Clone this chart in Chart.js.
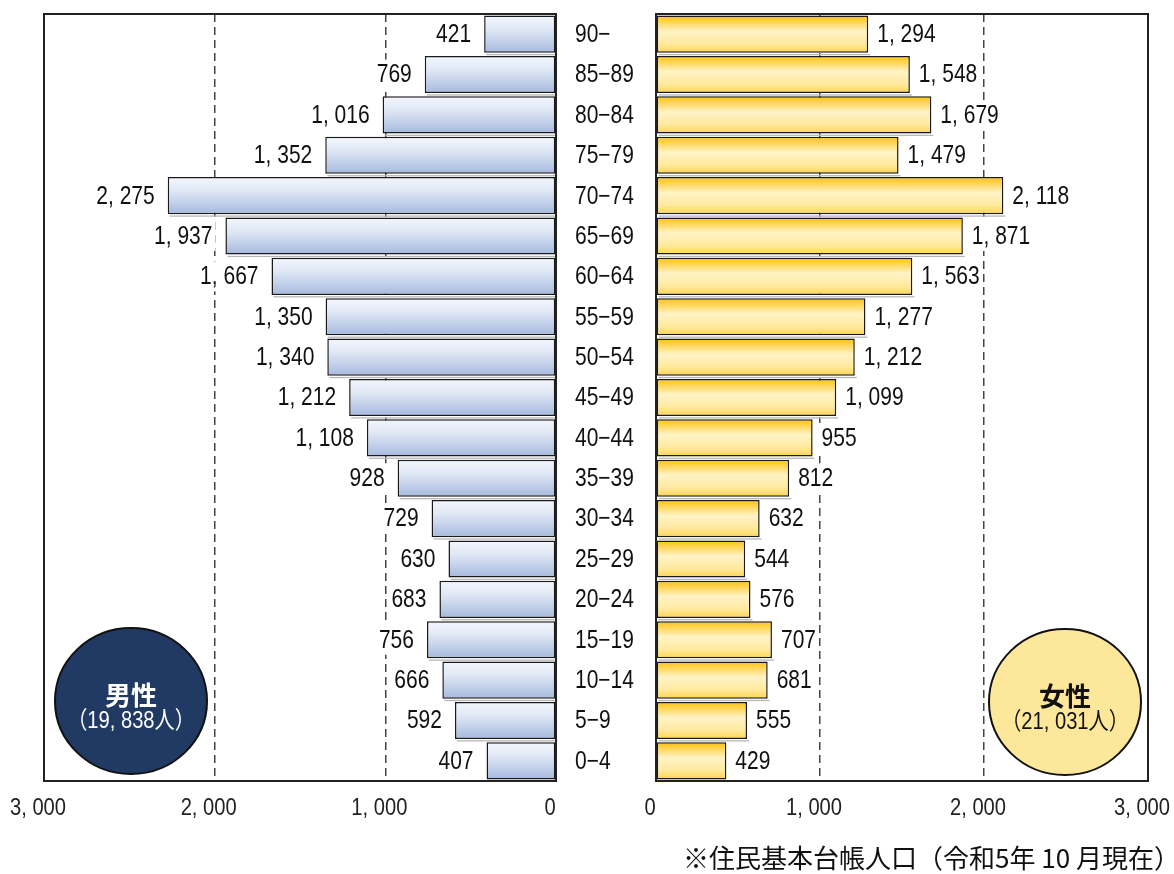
<!DOCTYPE html>
<html>
<head>
<meta charset="utf-8">
<script src="https://cdn.jsdelivr.net/npm/chart.js"></script>
<style>
  html, body { margin: 0; padding: 0; background: #fff; }
  #wrap { position: relative; width: 1174px; height: 874px; overflow: hidden; }
  canvas { position: absolute; top: 0; }
  #male { left: 0; }
  #female { left: 640px; }
</style>
</head>
<body>
<div id="wrap">
  <canvas id="male" width="640" height="874"></canvas>
  <canvas id="female" width="534" height="874"></canvas>
</div>
<script>
// 年齢階級（上から）
const ageGroups = ['90−', '85−89', '80−84', '75−79', '70−74', '65−69', '60−64', '55−59', '50−54',
  '45−49', '40−44', '35−39', '30−34', '25−29', '20−24', '15−19', '10−14', '5−9', '0−4'];
const maleCounts = [421, 769, 1016, 1352, 2275, 1937, 1667, 1350, 1340,
  1212, 1108, 928, 729, 630, 683, 756, 666, 592, 407];
const femaleCounts = [1294, 1548, 1679, 1479, 2118, 1871, 1563, 1277, 1212,
  1099, 955, 812, 632, 544, 576, 707, 681, 555, 429];
const axisTicks = [0, 1000, 2000, 3000];
const note = '※住民基本台帳人口（令和5年 10 月現在）';

const SQUEEZE = 0.84;
const NARROW = '"Liberation Sans", "Noto Sans CJK JP", sans-serif';
const CJK = '"Noto Sans CJK JP", sans-serif';

const fmt = n => n.toLocaleString('en-US').replace(/,/g, ', ');
const sum = a => a.reduce((s, v) => s + v, 0);

// 長体の文字（横方向に詰めて描く）
function narrowText(ctx, text, x, y, size, align, color) {
  ctx.save();
  ctx.font = size + 'px ' + NARROW;
  ctx.textBaseline = 'middle';
  const w = ctx.measureText(text).width * SQUEEZE;
  const left = align === 'right' ? x - w : align === 'center' ? x - w / 2 : x;
  ctx.translate(left, y);
  ctx.scale(SQUEEZE, 1);
  ctx.textAlign = 'left';
  ctx.fillStyle = color || '#111';
  ctx.fillText(text, 0, 0);
  ctx.restore();
  return { left, w };
}

function textWidth(ctx, text, size) {
  ctx.save();
  ctx.font = size + 'px ' + NARROW;
  const w = ctx.measureText(text).width * SQUEEZE;
  ctx.restore();
  return w;
}

// 棒ごとの縦グラデーション
function barGradient(stops, fallback) {
  return c => {
    const chart = c.chart;
    const ys = chart.scales.y;
    if (!chart.chartArea || !ys) return fallback;
    const cy = ys.getPixelForValue(c.dataIndex);
    const half = (ys.getPixelForValue(1) - ys.getPixelForValue(0)) * 0.46;
    const g = chart.ctx.createLinearGradient(0, cy - half, 0, cy + half);
    stops.forEach(s => g.addColorStop(s[0], s[1]));
    return g;
  };
}

// 棒の下の薄い影
const barShadow = {
  id: 'barShadow',
  beforeDatasetsDraw(chart) {
    const ctx = chart.ctx;
    ctx.save();
    ctx.fillStyle = '#b8b8b8';
    chart.getDatasetMeta(0).data.forEach(bar => {
      const l = Math.min(bar.x, bar.base), r = Math.max(bar.x, bar.base);
      ctx.fillRect(l + 2, bar.y + bar.height / 2 + 1.2, r - l, 1.3);
    });
    ctx.restore();
  }
};

const frameAndLabels = {
  id: 'frameAndLabels',
  afterDatasetsDraw(chart, args, opts) {
    const ctx = chart.ctx;
    const a = chart.chartArea;
    // 枠
    ctx.save();
    ctx.strokeStyle = '#222';
    ctx.lineWidth = 2;
    ctx.strokeRect(a.left, a.top, a.right - a.left, a.bottom - a.top);
    ctx.restore();

    // 数値ラベル
    const meta = chart.getDatasetMeta(0);
    const data = chart.data.datasets[0].data;
    meta.data.forEach((bar, i) => {
      const txt = fmt(data[i]);
      const w = textWidth(ctx, txt, 25);
      const x = opts.side === 'left' ? bar.x - 13 - w : bar.x + 9;
      ctx.fillStyle = '#fff';
      ctx.fillRect(x - 3, bar.y - 15, w + 6, 30);
      narrowText(ctx, txt, x, bar.y + 1, 25, 'left', '#111');
    });

    // 目盛ラベル
    const xs = chart.scales.x;
    axisTicks.forEach(v => {
      narrowText(ctx, fmt(v), xs.getPixelForValue(v) - 6, 808, 24, 'center', '#222');
    });

    // 年齢階級ラベル
    if (opts.ages) {
      const ys = chart.scales.y;
      ageGroups.forEach((g, i) => {
        narrowText(ctx, g, opts.ages.x, ys.getPixelForValue(i) + 1, 25, 'left', '#111');
      });
    }

    // 人数の円
    const c = opts.badge;
    ctx.save();
    ctx.beginPath();
    ctx.ellipse(c.x, c.y, 76, 73, 0, 0, Math.PI * 2);
    ctx.fillStyle = c.fill;
    ctx.fill();
    ctx.lineWidth = 2;
    ctx.strokeStyle = '#111';
    ctx.stroke();
    ctx.font = 'bold 26px ' + CJK;
    ctx.textAlign = 'center';
    ctx.textBaseline = 'middle';
    ctx.fillStyle = c.color;
    ctx.fillText(c.title, c.x, c.y - 6);
    ctx.restore();
    narrowText(ctx, '（' + fmt(c.total) + '人）', c.x, c.y + 20, 24, 'center', c.color);

    if (opts.note) {
      ctx.save();
      ctx.font = '26px ' + CJK;
      ctx.textAlign = 'right';
      ctx.textBaseline = 'middle';
      ctx.fillStyle = '#111';
      ctx.fillText(note, opts.note.x, opts.note.y);
      ctx.restore();
    }
  }
};

function makeChart(id, values, side, fill, pad, extra) {
  return new Chart(document.getElementById(id), {
    type: 'bar',
    data: {
      labels: ageGroups,
      datasets: [{
        data: values,
        backgroundColor: barGradient(fill, fill[fill.length - 1][1]),
        borderColor: '#1a1a1a',
        borderWidth: 1.5,
        borderSkipped: false,
        barPercentage: 0.92,
        categoryPercentage: 1
      }]
    },
    options: {
      indexAxis: 'y',
      responsive: false,
      animation: false,
      layout: { padding: pad },
      plugins: {
        legend: { display: false },
        tooltip: { enabled: false },
        frameAndLabels: Object.assign({ side }, extra)
      },
      scales: {
        x: {
          min: 0,
          max: 3000,
          reverse: side === 'left',
          afterFit: s => { s.height = 93; },
          afterBuildTicks: s => { s.ticks = axisTicks.map(v => ({ value: v })); },
          ticks: { display: false },
          border: { display: false, dash: [8, 5] },
          grid: {
            drawTicks: false,
            lineWidth: 1.5,
            color: c => (c.tick && (c.tick.value === 0 || c.tick.value === 3000)) ? 'rgba(0,0,0,0)' : '#444'
          }
        },
        y: { display: false }
      }
    },
    plugins: [barShadow, frameAndLabels]
  });
}

makeChart('male', maleCounts, 'left',
  [[0, '#f3f6fc'], [0.35, '#e2e9f6'], [1, '#a5b9de']],
  { left: 44, right: 84, top: 14, bottom: 0 },
  { ages: { x: 575 }, badge: { x: 131, y: 701, fill: '#213a64', color: '#fff', title: '男性', total: sum(maleCounts) } });

makeChart('female', femaleCounts, 'right',
  [[0, '#ffc10a'], [0.42, '#fff3c6'], [0.75, '#ffeaa0'], [1, '#ffd54f']],
  { left: 16, right: 26, top: 14, bottom: 0 },
  { badge: { x: 425, y: 702, fill: '#fde79b', color: '#111', title: '女性', total: sum(femaleCounts) },
    note: { x: 540, y: 858 } });
</script>
</body>
</html>
